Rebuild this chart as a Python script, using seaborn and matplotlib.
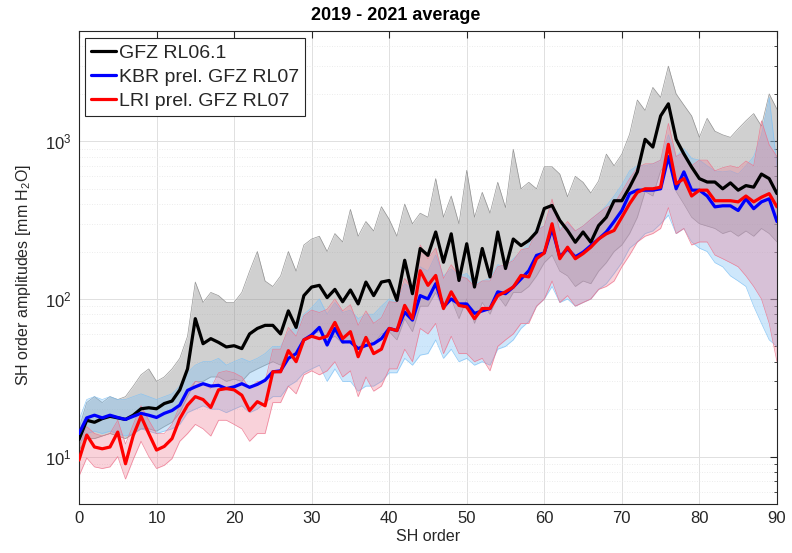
import numpy as np
import pandas as pd
import matplotlib
matplotlib.use("Agg")
import matplotlib.pyplot as plt
import seaborn as sns
from matplotlib.ticker import LogLocator, FixedLocator, NullFormatter

sns.set_style("white")
plt.rcParams["font.family"] = ["Liberation Sans", "DejaVu Sans"]
plt.rcParams["mathtext.fontset"] = "custom"
plt.rcParams["mathtext.rm"] = "Liberation Sans"
plt.rcParams["mathtext.it"] = "Liberation Sans:italic"
plt.rcParams["mathtext.bf"] = "Liberation Sans:bold"

# SH order axis
order = np.arange(91)

# 2019-2021 mean order amplitudes [mm H2O]
gfz_rl061 = [12.8, 17, 16.5, 17.4, 18, 17.6, 17.2, 18.3, 20.1, 20.4,
             20.1, 21.7, 22.5, 26.5, 36, 75, 52, 56, 53, 49.6,
             50.5, 48.4, 60, 65, 68, 68, 60, 84, 66, 105,
             119, 122, 102, 115, 96, 114, 93, 128, 105, 128,
             131, 98, 176, 108, 209, 189, 266, 171, 259, 131,
             224, 119, 209, 138, 266, 156, 240, 218, 235, 266,
             375, 392, 315, 272, 229, 266, 229, 292, 330, 420,
             420, 512, 640, 1030, 920, 1450, 1730, 1030, 832, 687,
             580, 552, 552, 500, 545, 490, 524, 512, 620, 580, 466]

kbr_rl07 = [14, 17.6, 18.3, 17.6, 18.3, 17.7, 17.2, 18, 18.8, 18.3,
            17.7, 18.8, 19.6, 21.2, 26.3, 27.7, 29, 28, 28.3, 27,
            27.7, 29, 27.5, 28.7, 30.5, 34.5, 35, 42, 45, 55,
            59, 66, 51, 65, 53.4, 53.4, 48.4, 50.7, 52, 56,
            65, 63, 82.6, 73.4, 105, 100, 125, 89, 100, 93,
            93, 81, 84, 87, 111, 108, 119, 134, 151, 189,
            196, 279, 185, 208, 185, 198, 218, 240, 266, 310,
            364, 466, 490, 490, 490, 500, 800, 500, 640, 490,
            490, 450, 384, 390, 390, 364, 432, 374, 413, 432, 310]

lri_rl07 = [9.5, 13.7, 11.5, 11.2, 11.5, 14.3, 9.0, 13.6, 18, 14,
            11, 11.6, 13, 17.4, 21.2, 24, 23, 20.5, 26.5, 27,
            26.5, 24.5, 19.6, 22.3, 21, 34.5, 34.5, 47, 40, 55,
            58, 56, 58, 71, 56, 62, 43, 57, 45, 48,
            65, 63, 91, 75, 151, 122, 141, 87, 111, 91,
            89, 75, 87, 87, 105, 111, 119, 141, 138, 180,
            196, 300, 180, 213, 180, 194, 213, 240, 259, 272,
            330, 402, 475, 500, 500, 512, 957, 538, 580, 450,
            490, 490, 420, 420, 420, 413, 450, 413, 442, 466, 384]

# spread of the monthly solutions (upper / lower bounds)
gfz_hi = [15, 22, 24, 22, 24, 23, 24, 28, 33, 36,
          30, 32, 36, 42, 58, 128, 95, 110, 105, 95,
          95, 110, 150, 200, 130, 120, 140, 200, 150, 220,
          240, 250, 200, 260, 230, 370, 250, 310, 270, 385,
          320, 250, 400, 300, 350, 330, 580, 330, 450, 300,
          655, 330, 475, 350, 550, 380, 890, 500, 550, 500,
          690, 690, 620, 445, 600, 550, 470, 560, 830, 700,
          830, 1110, 1830, 1570, 2200, 1900, 3000, 2000, 1700, 1450,
          1060, 1400, 1160, 1100, 1060, 1200, 1350, 1500, 1250, 2000, 1600]
gfz_lo = [11, 13, 13, 13.5, 14, 13.5, 13, 14, 15, 15,
          14.5, 15.5, 16.5, 19, 24, 30, 30, 32, 32, 30,
          31, 30, 34, 36, 38, 40, 38, 46, 42, 55,
          60, 62, 55, 58, 52, 55, 48, 58, 52, 60,
          62, 55, 75, 62, 90, 90, 110, 85, 100, 75,
          100, 70, 95, 80, 105, 90, 110, 110, 120, 140,
          170, 190, 150, 140, 120, 130, 125, 150, 170, 200,
          220, 260, 330, 480, 450, 650, 750, 480, 400, 330,
          300, 290, 280, 260, 270, 250, 270, 250, 280, 260, 230]
kbr_hi = [17, 23, 24, 23, 24, 23, 23, 24, 25, 24,
          23, 24, 25, 28, 34, 38, 40, 40, 42, 38,
          40, 42, 40, 42, 45, 50, 50, 62, 66, 80,
          88, 100, 80, 95, 82, 85, 75, 80, 80, 90,
          100, 95, 125, 115, 160, 150, 190, 140, 155, 140,
          145, 125, 130, 135, 165, 160, 180, 200, 225, 280,
          290, 400, 280, 300, 270, 290, 320, 350, 390, 450,
          530, 650, 700, 700, 720, 760, 1100, 800, 900, 780,
          760, 700, 650, 640, 650, 620, 700, 800, 1100, 1900, 700]
kbr_lo = [12, 14, 14.5, 14, 14.5, 14, 13.5, 14, 15, 14.5,
          14, 14.5, 15, 16, 19, 20, 21, 20, 20, 19,
          20, 21, 19, 20, 22, 24, 24, 28, 30, 34,
          36, 38, 30, 36, 30, 30, 26, 28, 28, 30,
          34, 34, 42, 38, 44, 45, 55, 42, 48, 40,
          42, 38, 40, 38, 48, 50, 55, 65, 72, 90,
          100, 120, 95, 100, 90, 95, 100, 115, 125, 145,
          170, 210, 230, 260, 270, 300, 340, 260, 280, 230,
          210, 200, 170, 160, 140, 130, 120, 90, 70, 55, 50]
lri_hi = [11.5, 15.5, 14, 13.5, 14, 17, 12, 16, 21, 17,
          14, 14, 16, 21, 26, 30, 29, 27, 34, 35,
          34, 32, 27, 30, 30, 48, 48, 66, 58, 78,
          85, 82, 86, 100, 84, 92, 68, 84, 70, 76,
          96, 95, 135, 115, 220, 180, 210, 135, 165, 140,
          135, 120, 130, 130, 160, 165, 175, 205, 210, 270,
          290, 430, 270, 310, 270, 290, 320, 350, 380, 400,
          480, 580, 680, 720, 720, 760, 1300, 800, 850, 700,
          760, 760, 650, 680, 700, 680, 750, 700, 1350, 950, 800]
lri_lo = [7.5, 9.8, 8.6, 8.4, 8.6, 10, 7.2, 9.6, 12.5, 10,
          8.4, 8.8, 9.7, 12.5, 14, 16, 15, 13.5, 17, 17,
          16, 15, 12.5, 14, 14, 22, 22, 28, 25, 33,
          35, 33, 35, 40, 32, 35, 24, 32, 26, 28,
          36, 36, 48, 40, 65, 60, 70, 45, 58, 45,
          45, 40, 42, 35, 50, 55, 60, 70, 70, 90,
          100, 130, 95, 105, 90, 95, 100, 115, 120, 130,
          160, 190, 230, 250, 260, 280, 380, 260, 280, 220,
          230, 230, 190, 180, 170, 160, 140, 120, 100, 70, 40]

labels = ["GFZ RL06.1", "KBR prel. GFZ RL07", "LRI prel. GFZ RL07"]
colors = {"GFZ RL06.1": "black", "KBR prel. GFZ RL07": "#0000ff",
          "LRI prel. GFZ RL07": "#ff0000"}

fig = plt.figure(figsize=(7.92, 5.53), dpi=100)
ax = fig.add_axes([0.0997, 0.0886, 0.8813, 0.855])
ax.set_yscale("log")

# monthly spreads
spreads = [
    (gfz_lo, gfz_hi, (0.52, 0.52, 0.52), 0.38),
    (kbr_lo, kbr_hi, (0.50, 0.76, 0.96), 0.38),
    (lri_lo, lri_hi, (0.93, 0.45, 0.55), 0.32),
]
for lo, hi, col, a in spreads:
    ax.fill_between(order, lo, hi, color=col, alpha=a, lw=0, zorder=2)
    sns.lineplot(x=order, y=hi, ax=ax, color=col, lw=0.5, alpha=0.85,
                 legend=False, zorder=2)
    sns.lineplot(x=order, y=lo, ax=ax, color=col, lw=0.5, alpha=0.85,
                 legend=False, zorder=2)

# averages
df = pd.DataFrame({
    "order": np.concatenate([order, order, order]),
    "amp": np.concatenate([gfz_rl061, kbr_rl07, lri_rl07]),
    "solution": np.repeat(labels, len(order)),
})
sns.lineplot(data=df, x="order", y="amp", hue="solution", hue_order=labels,
             palette=colors, lw=2.3, ax=ax, zorder=5)

ax.set_xlim(0, 90)
ax.set_ylim(5, 5000)
ax.xaxis.set_major_locator(FixedLocator(np.arange(0, 91, 10)))
ax.yaxis.set_major_locator(LogLocator(base=10, numticks=10))
ax.yaxis.set_minor_locator(LogLocator(base=10, subs=np.arange(2, 10), numticks=20))
ax.yaxis.set_minor_formatter(NullFormatter())

ax.set_axisbelow(True)
ax.grid(which="major", color=(0.88, 0.88, 0.88), lw=0.7)
ax.grid(which="minor", axis="y", color=(0.9, 0.9, 0.9), lw=0.6, ls=(0, (1, 2)))

axis_col = (0.15, 0.15, 0.15)
for sp in ax.spines.values():
    sp.set_visible(True)
    sp.set_color(axis_col)
    sp.set_linewidth(0.8)
ax.tick_params(which="both", direction="in", top=True, right=True,
               colors=axis_col, labelsize=12)
ax.tick_params(which="major", length=5, width=0.8, pad=5)
ax.tick_params(which="minor", length=2.5, width=0.6)

ax.set_xlabel("SH order", fontsize=11.5, color=axis_col, labelpad=2)
ax.set_ylabel("SH order amplitudes [mm H$_2$O]", fontsize=11.5, color=axis_col)
ax.yaxis.set_label_coords(-0.066, 0.484)

fig.text(0.5, 1 - 15 / 553, "2019 - 2021 average", ha="center", va="center",
         fontsize=13, fontweight="bold", color="black")

old = ax.get_legend()
handles = old.legend_handles
texts = [t.get_text() for t in old.get_texts()]
for h in handles:
    h.set_linewidth(2.3)
leg = ax.legend(handles, texts, loc="upper left", bbox_to_anchor=(0.0086, 0.985),
                borderaxespad=0, fontsize=14, frameon=True, fancybox=False,
                framealpha=1, edgecolor=axis_col, handlelength=1.3,
                handletextpad=0.15, labelspacing=0.33, borderpad=0.3)
leg.get_frame().set_linewidth(0.8)
leg.set_zorder(10)

fig.savefig("out.png", dpi=100)
